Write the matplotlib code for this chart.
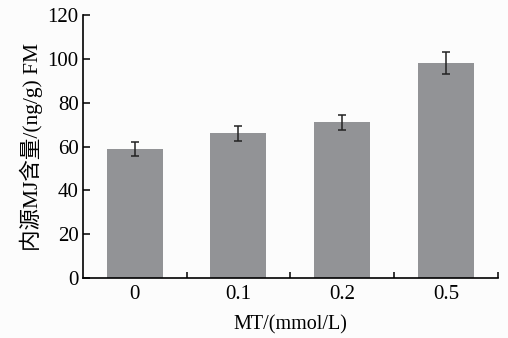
import matplotlib.pyplot as plt
import numpy as np

plt.rcParams['font.family'] = ['Liberation Serif', 'Noto Sans CJK SC']

categories = ['0', '0.1', '0.2', '0.5']
values = [59, 66, 71, 98]
errors = [3.1, 3.5, 3.6, 5.0]

fig = plt.figure(figsize=(5.08, 3.38), dpi=100)
fig.patch.set_facecolor('#fcfcfc')
ax = fig.add_axes([0.163, 0.1775, 0.817, 0.778])
ax.set_facecolor('#fcfcfc')

x = np.arange(len(categories))
ax.bar(x, values, width=0.54, color='#929396', zorder=1)
ax.errorbar(x, values, yerr=errors, fmt='none', ecolor='#222222',
            elinewidth=1.1, capsize=3, capthick=1.1, zorder=2)

ax.set_xlim(-0.5, 3.5)
ax.set_ylim(0, 120)
ax.set_yticks(np.arange(0, 121, 20))

# boundary ticks between groups, labels at group centres
ax.set_xticks(x + 0.5)
ax.set_xticklabels([])
ax.set_xticks(x, minor=True)
ax.set_xticklabels(categories, minor=True)
ax.tick_params(axis='x', which='major', direction='in', length=4, width=1.1)
ax.tick_params(axis='x', which='minor', length=0, pad=5, labelsize=15)
ax.tick_params(axis='y', direction='in', length=5, width=1.1, labelsize=15, pad=3)

for s in ['top', 'right']:
    ax.spines[s].set_visible(False)
for s in ['left', 'bottom']:
    ax.spines[s].set_linewidth(1.2)

ax.set_xlabel('MT/(mmol/L)', fontsize=14.5, labelpad=8)
ax.set_ylabel('内源MJ含量/(ng/g) FM', fontsize=15.5, labelpad=3)

fig.savefig('out.png', dpi=100, facecolor=fig.get_facecolor())
